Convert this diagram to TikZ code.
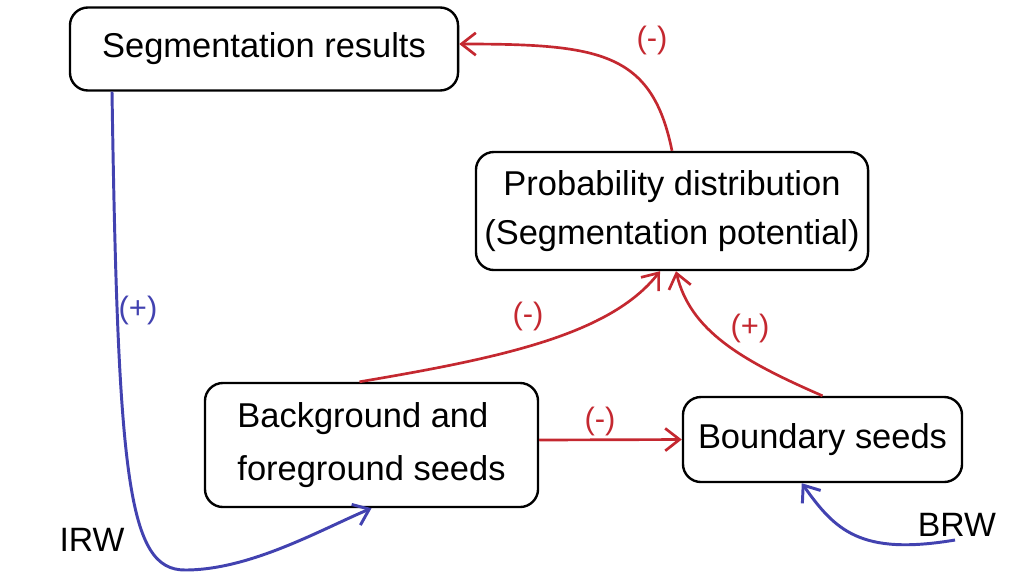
\documentclass[tikz,border=0pt]{standalone}
\usepackage{fontspec}
\setmainfont{Liberation Sans}
\usetikzlibrary{arrows.meta,calc}
\definecolor{arrred}{RGB}{196,40,48}
\definecolor{arrblue}{RGB}{66,66,176}

\begin{document}
\begin{tikzpicture}[x=0.025cm, y=-0.025cm,
  box/.style = {shape=rectangle, rounded corners=0.45cm, draw, line width=1.7pt,
    align=center, inner sep=0pt, font=\fontsize{24.5}{38}\selectfont},
  redarrow/.style = {draw=arrred, line width=1.9pt, -{Straight Barb[length=3.6mm,width=5.6mm]}},
  bluearrow/.style = {draw=arrblue, line width=2.1pt, -{Straight Barb[length=3.6mm,width=5.6mm]}},
  redlabel/.style = {text=arrred, font=\fontsize{22}{26}\selectfont},
  bluelabel/.style = {text=arrblue, font=\fontsize{22}{26}\selectfont},
  rwlabel/.style = {font=\fontsize{24}{28}\selectfont}]
  \useasboundingbox (0,0) rectangle (1017,575);
  % boxes
  \node[box, minimum width=9.7cm, minimum height=2.075cm] (seg) at (264,49) {Segmentation results};
  \node[box, minimum width=9.8cm, minimum height=2.95cm, font=\fontsize{24.5}{35}\selectfont]
    (prob) at (672,211) {Probability distribution\\(Segmentation potential)};
  \node[box, minimum width=8.325cm, minimum height=3.1cm, align=left] (bg) at (371.5,445)
    {Background and\\foreground seeds};
  \node[box, minimum width=6.975cm, minimum height=2.125cm] (bnd) at (822.5,439.5) {Boundary seeds};
  % red connectors
  \draw[redarrow] (prob.north) .. controls (652,52) and (600,44) .. ($(seg.east)+(0,-5)$);
  \draw[redarrow] ($(bg.north)+(-12,0)$) .. controls (500,358) and (610,335) .. ($(prob.south)+(-12,0)$);
  \draw[redarrow] (bnd.north) .. controls (740,360) and (690,330) .. ($(prob.south)+(4,0)$);
  \draw[redarrow] ($(bg.east)+(0,-5)$) -- (bnd.west);
  \node[redlabel] (lseg) at (652,40) {(-)};
  \node[redlabel] (lbg) at (528,316) {(-)};
  \node[redlabel] (lbnd) at (750,328) {(+)};
  \node[redlabel] (lmid) at (600,421) {(-)};
  % blue connectors
  \coordinate (brw) at (955,540);
  \draw[bluearrow] ($(seg.south)+(-152,0)$) .. controls (118,480) and (128,570) .. (185,570)
    .. controls (250,570) and (320,530) .. (bg.south);
  \draw[bluearrow] (brw) .. controls (860,556) and (835,530) .. ($(bnd.south west)+(120,0)$);
  \node[bluelabel] (lirw) at (138,310) {(+)};
  \node[rwlabel] (irw) at (92,540) {IRW};
  \node[rwlabel] (brwl) at (957,525) {BRW};
\end{tikzpicture}
\end{document}
